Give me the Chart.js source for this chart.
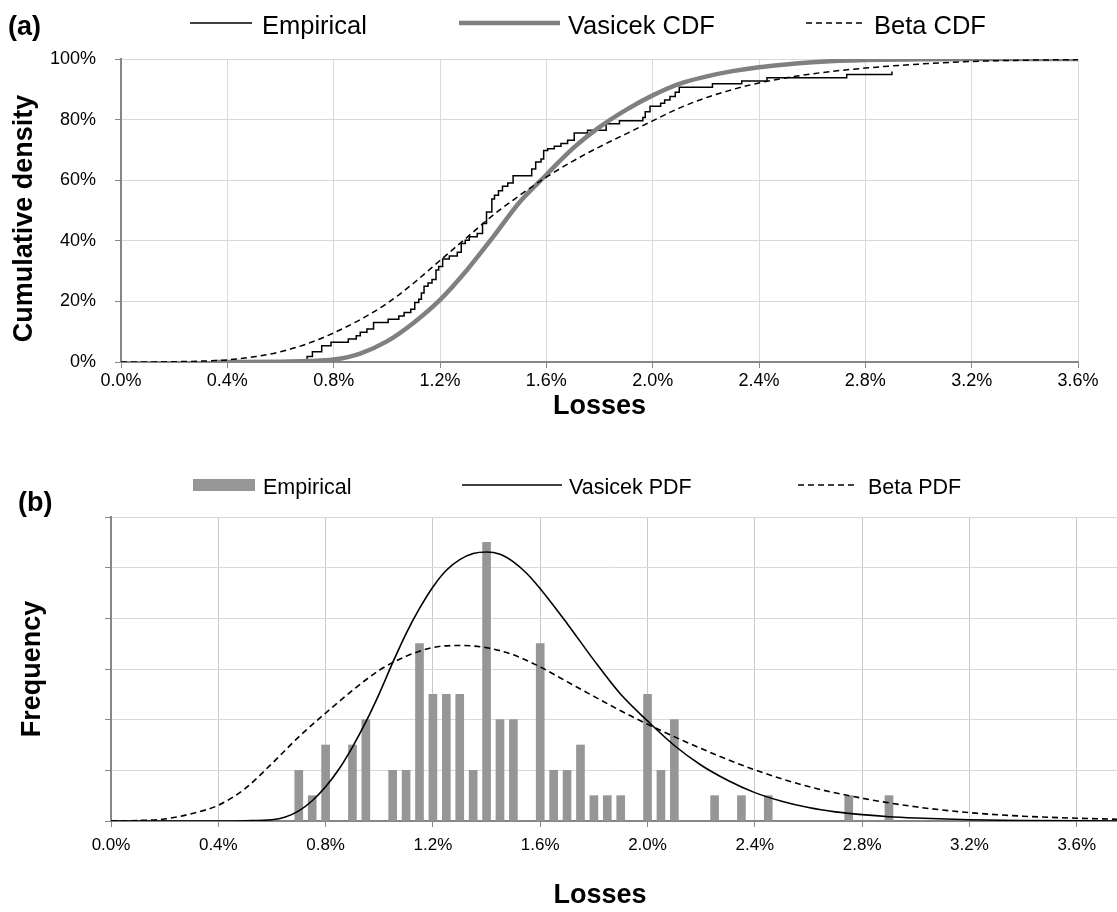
<!DOCTYPE html>
<html>
<head>
<meta charset="utf-8">
<script src="https://cdn.jsdelivr.net/npm/chart.js@4.4.1/dist/chart.umd.min.js"></script>
<style>
html,body{margin:0;padding:0;background:#fff;}
#wrap{position:relative;width:1117px;height:912px;overflow:hidden;}
canvas{position:absolute;left:0;top:0;}
</style>
</head>
<body>
<div id="wrap">
<canvas id="cdf" width="1117" height="912"></canvas>
<canvas id="pdf" width="1117" height="912"></canvas>
</div>
<script>
// ---------- data (losses in %) ----------
const xTickValues = [0, 0.4, 0.8, 1.2, 1.6, 2.0, 2.4, 2.8, 3.2, 3.6];
const cdfTickValues = [0, 20, 40, 60, 80, 100];
const freqTickValues = [0, 2, 4, 6, 8, 10, 12];

// (a) empirical CDF steps
const empCdfX = [0.50,0.70,0.72,0.755,0.79,0.855,0.885,0.90,0.925,0.95,1.005,1.045,1.065,1.09,1.105,1.12,1.13,1.14,1.155,1.17,1.185,1.195,1.21,1.235,1.265,1.28,1.295,1.31,1.34,1.36,1.375,1.395,1.405,1.42,1.435,1.455,1.475,1.545,1.56,1.58,1.59,1.605,1.63,1.655,1.68,1.705,1.755,1.825,1.875,1.963,1.972,1.99,2.03,2.045,2.065,2.085,2.10,2.225,2.335,2.43,2.73,2.90];
const empCdfY = [0,1.8,3.4,5.4,6.5,7.6,8.7,9.8,10.9,13.0,14.1,15.2,16.3,17.4,19.6,20.7,22.8,25.0,26.1,27.2,30.4,31.5,34.0,35.0,36.2,39.1,40.2,41.3,42.4,45.7,49.5,53.8,55.0,56.5,58.0,59.1,61.5,63.7,66.0,67.0,69.8,70.4,71.2,72.1,73.2,75.6,76.5,78.6,79.6,80.7,82.6,84.4,85.4,86.5,87.6,89.0,90.7,91.8,92.7,93.8,94.9,95.9];

// (a) Vasicek CDF
const vasCdfX = [0.35,0.4,0.6,0.7,0.8,0.9,1.0,1.1,1.2,1.3,1.4,1.5,1.6,1.7,1.8,1.9,2.0,2.1,2.2,2.3,2.4,2.5,2.6,2.7,2.8,3.0,3.2,3.6];
const vasCdfY = [0,0,0.1,0.3,0.8,2.8,6.8,12.9,20.5,30.2,41.3,52.8,61.8,70.5,77.5,83.2,88.0,91.8,94.2,96.0,97.3,98.2,98.9,99.4,99.7,99.9,100,100];

// (a) Beta CDF
const betaCdfX = [0,0.2,0.3,0.4,0.5,0.6,0.7,0.8,0.9,1.0,1.1,1.2,1.3,1.4,1.5,1.6,1.7,1.8,1.9,2.0,2.1,2.2,2.3,2.4,2.6,2.8,3.0,3.2,3.4,3.6];
const betaCdfY = [0,0.1,0.3,0.7,1.7,3.4,6.0,9.6,14.0,19.3,26.0,33.5,41.0,48.5,55.0,61.0,66.3,71.0,75.3,79.6,83.8,87.2,89.9,92.1,95.1,97.0,98.3,99.2,99.6,99.8];

// (b) histogram
const histBins = [0.70,0.75,0.80,0.90,0.95,1.05,1.10,1.15,1.20,1.25,1.30,1.35,1.40,1.45,1.50,1.60,1.65,1.70,1.75,1.80,1.85,1.90,2.00,2.05,2.10,2.25,2.35,2.45,2.75,2.90];
const histCounts = [2,1,3,3,4,2,2,7,5,5,5,2,11,4,4,7,2,2,3,1,1,1,5,2,4,1,1,1,1,1];

// (b) Vasicek PDF
const vasPdfX = [0,0.4,0.5,0.6,0.65,0.7,0.75,0.8,0.85,0.9,0.95,1.0,1.05,1.1,1.15,1.2,1.25,1.3,1.35,1.4,1.45,1.5,1.55,1.6,1.7,1.8,1.9,2.0,2.1,2.2,2.3,2.4,2.5,2.6,2.7,2.8,2.9,3.0,3.2,3.4,3.75];
const vasPdfY = [0,0,0.01,0.05,0.16,0.4,0.8,1.35,2.05,2.92,3.91,5.03,6.25,7.4,8.39,9.24,9.9,10.32,10.56,10.62,10.53,10.23,9.77,9.17,7.8,6.35,5.0,3.95,2.98,2.2,1.6,1.12,0.78,0.53,0.36,0.25,0.17,0.12,0.05,0.02,0];

// (b) Beta PDF
const betaPdfX = [0,0.1,0.2,0.3,0.4,0.5,0.6,0.7,0.8,0.9,1.0,1.1,1.2,1.3,1.4,1.5,1.6,1.7,1.8,1.9,2.0,2.2,2.4,2.6,2.8,3.0,3.2,3.4,3.6,3.75];
const betaPdfY = [0,0.02,0.08,0.29,0.62,1.28,2.27,3.32,4.26,5.15,5.95,6.5,6.85,6.93,6.84,6.56,6.08,5.5,4.92,4.35,3.82,2.86,2.02,1.36,0.9,0.56,0.33,0.19,0.11,0.07];

// ---------- helpers ----------
const FONT = '"Liberation Sans", Arial, Helvetica, sans-serif';
Chart.defaults.font.family = FONT;
Chart.defaults.color = '#000';
const zip = (xs, ys) => xs.map((x, i) => ({x: x, y: ys[i]}));
const AXIS = '#868686';

function drawText(ctx, s, x, y, size, bold, align, rot) {
  ctx.save();
  ctx.font = (bold ? 'bold ' : '') + size + 'px ' + FONT;
  ctx.fillStyle = '#000';
  ctx.textAlign = align || 'left';
  ctx.textBaseline = 'alphabetic';
  ctx.translate(x, y);
  if (rot) ctx.rotate(-Math.PI / 2);
  ctx.fillText(s, 0, 0);
  ctx.restore();
}
function sampleLine(ctx, x1, x2, y, color, w, dash) {
  ctx.save();
  ctx.strokeStyle = color; ctx.lineWidth = w; ctx.setLineDash(dash || []);
  ctx.beginPath(); ctx.moveTo(x1, y); ctx.lineTo(x2, y); ctx.stroke();
  ctx.restore();
}

function axisOpts(min, max, tickVals, fmt, fontSize, pad, size, isX, gridColor) {
  return {
    type: 'linear', min: min, max: max, offset: false,
    afterBuildTicks: s => { s.ticks = tickVals.map(v => ({value: v})); },
    afterFit: s => { if (isX) s.height = size; else s.width = size; },
    ticks: { callback: fmt, font: {size: fontSize}, color: '#000', padding: pad, autoSkip: false, maxRotation: 0, minRotation: 0 },
    grid: { color: gridColor, lineWidth: 1, tickColor: AXIS, tickLength: 6, offset: false },
    border: { color: AXIS, width: 2 }
  };
}

// ---------- (a) cumulative chart ----------
const topDecor = {
  id: 'topDecor',
  afterDraw(chart) {
    const ctx = chart.ctx, ds = chart.data.datasets, a = chart.chartArea;
    drawText(ctx, '(a)', 8, 35, 27, true, 'left');
    sampleLine(ctx, 190, 252, 23, ds[0].borderColor, 1.5);
    drawText(ctx, ds[0].label, 262, 34, 25.5, false, 'left');
    sampleLine(ctx, 459, 560, 23, ds[1].borderColor, 4.5);
    drawText(ctx, ds[1].label, 568, 34, 25.5, false, 'left');
    sampleLine(ctx, 806, 862, 23, ds[2].borderColor, 1.5, [6, 4]);
    drawText(ctx, ds[2].label, 874, 34, 25.5, false, 'left');
    drawText(ctx, 'Losses', (a.left + a.right) / 2, 414, 27, true, 'center');
    drawText(ctx, 'Cumulative density', 32, (a.top + a.bottom) / 2 + 8, 27, true, 'center', true);
  }
};

new Chart(document.getElementById('cdf'), {
  type: 'line',
  data: {
    datasets: [
      { label: 'Empirical', data: zip(empCdfX, empCdfY), borderColor: '#000', borderWidth: 1.5,
        stepped: 'before', pointRadius: 0, fill: false, order: 2 },
      { label: 'Vasicek CDF', data: zip(vasCdfX, vasCdfY), borderColor: '#808080', borderWidth: 4.5,
        pointRadius: 0, cubicInterpolationMode: 'monotone', fill: false, order: 1 },
      { label: 'Beta CDF', data: zip(betaCdfX, betaCdfY), borderColor: '#000', borderWidth: 1.5,
        borderDash: [6, 4], pointRadius: 0, cubicInterpolationMode: 'monotone', fill: false, order: 0 }
    ]
  },
  options: {
    responsive: false, animation: false, devicePixelRatio: 1, events: [],
    layout: { padding: { left: 0, right: 39, top: 59, bottom: 912 - 362 - 60 } },
    plugins: { legend: { display: false }, tooltip: { enabled: false } },
    scales: {
      x: axisOpts(0, 3.6, xTickValues, v => v.toFixed(1) + '%', 18, 2, 60, true, '#d9d9d9'),
      y: axisOpts(0, 100, cdfTickValues, v => v + '%', 18, 19, 121, false, '#d9d9d9')
    }
  },
  plugins: [topDecor]
});

// ---------- (b) density chart ----------
const botDecor = {
  id: 'botDecor',
  afterDraw(chart) {
    const ctx = chart.ctx, ds = chart.data.datasets, a = chart.chartArea;
    drawText(ctx, '(b)', 18, 511, 27, true, 'left');
    ctx.save(); ctx.fillStyle = ds[0].backgroundColor; ctx.fillRect(193, 479, 62, 12); ctx.restore();
    drawText(ctx, ds[0].label, 263, 494, 21.5, false, 'left');
    sampleLine(ctx, 462, 562, 485, ds[1].borderColor, 1.5);
    drawText(ctx, ds[1].label, 569, 494, 21.5, false, 'left');
    sampleLine(ctx, 798, 855, 485, ds[2].borderColor, 1.5, [6, 4]);
    drawText(ctx, ds[2].label, 868, 494, 21.5, false, 'left');
    drawText(ctx, 'Losses', 600, 903, 27, true, 'center');
    drawText(ctx, 'Frequency', 40, (a.top + a.bottom) / 2, 27, true, 'center', true);
  }
};

const xB = axisOpts(0, 3.75, xTickValues, v => v.toFixed(1) + '%', 17, 8, 60, true, '#c8c8c8');
xB.ticks.includeBounds = false;
const yB = axisOpts(0, 12, freqTickValues, v => '', 17, 0, 111, false, '#d9d9d9');
yB.ticks.display = true;

new Chart(document.getElementById('pdf'), {
  type: 'bar',
  data: {
    datasets: [
      { type: 'bar', label: 'Empirical', data: zip(histBins, histCounts), backgroundColor: '#969696',
        borderWidth: 0, barThickness: 8, order: 2 },
      { type: 'line', label: 'Vasicek PDF', data: zip(vasPdfX, vasPdfY), borderColor: '#000', borderWidth: 1.6,
        pointRadius: 0, cubicInterpolationMode: 'monotone', fill: false, order: 1 },
      { type: 'line', label: 'Beta PDF', data: zip(betaPdfX, betaPdfY), borderColor: '#000', borderWidth: 1.6,
        borderDash: [6, 4], pointRadius: 0, cubicInterpolationMode: 'monotone', fill: false, order: 0 }
    ]
  },
  options: {
    responsive: false, animation: false, devicePixelRatio: 1, events: [],
    layout: { padding: { left: 0, right: 0, top: 517, bottom: 912 - 821 - 60 } },
    plugins: { legend: { display: false }, tooltip: { enabled: false } },
    scales: { x: xB, y: yB }
  },
  plugins: [botDecor]
});
</script>
</body>
</html>
